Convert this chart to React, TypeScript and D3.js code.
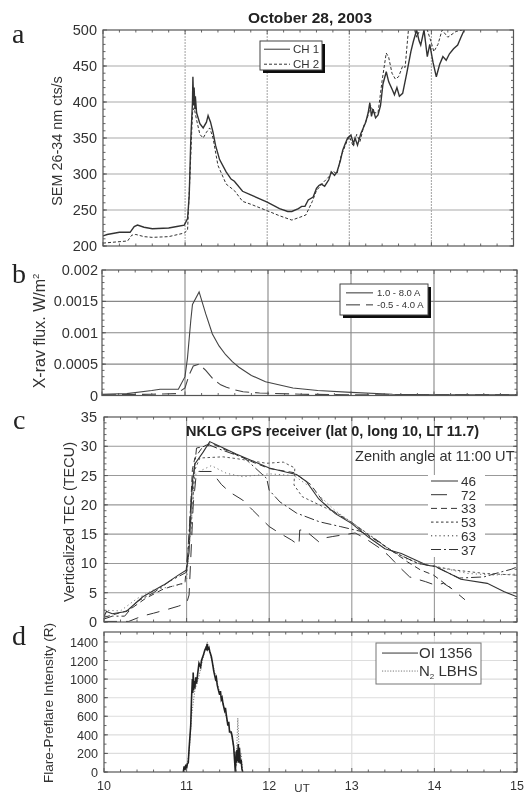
import React from "react";
import * as d3 from "d3";

const FONT = "'Liberation Sans', Arial, sans-serif";
const SERIF = "'Liberation Serif', serif";

// Panel a
const aT1 = [10,10.05,10.1,10.2,10.33,10.38,10.42,10.5,10.6,10.8,10.9,10.99,11.03,11.05,11.07,11.09,11.095,11.105,11.11,11.12,11.125,11.14,11.18,11.22,11.26,11.28,11.31,11.34,11.37,11.42,11.5,11.56,11.6,11.7,11.8,12,12.15,12.25,12.3,12.38,12.42,12.46,12.5,12.56,12.6,12.63,12.66,12.7,12.75,12.78,12.82,12.85,12.89,12.92,12.95,12.98,13.02,13.05,13.07,13.1,13.14,13.17,13.2,13.23,13.25,13.27,13.29,13.32,13.35,13.38,13.41,13.45,13.48,13.52,13.55,13.58,13.61,13.65,13.7,13.75,13.78,13.82,13.85,13.87,13.91,13.95,13.98,14.02,14.06,14.1,14.14,14.18,14.22,14.27,14.32,14.36,14.4];
const aCH1 = [214,216,217,219,219,227,229,226,224,225,227,229,238,270,350,400,435,395,420,390,408,385,370,364,372,381,372,358,340,320,303,293,290,276,271,261,252,248,248,252,255,255,264,268,280,284,286,283,292,303,298,303,318,333,342,350,354,342,350,340,356,364,372,385,399,380,390,378,382,395,425,442,428,418,410,420,408,412,440,470,484,500,485,479,500,463,480,455,435,452,463,458,467,474,479,490,500];
const aT2 = [10,10.1,10.3,10.35,10.4,10.5,10.6,10.8,10.99,11.03,11.06,11.09,11.11,11.14,11.18,11.22,11.26,11.3,11.34,11.4,11.5,11.6,11.7,11.8,12,12.15,12.3,12.4,12.47,12.55,12.6,12.63,12.68,12.75,12.8,12.85,12.9,12.97,13,13.05,13.09,13.13,13.18,13.22,13.26,13.3,13.35,13.4,13.45,13.48,13.52,13.56,13.6,13.65,13.68,13.72,13.78,13.82,13.88,13.95,14,14.03,14.08,14.13,14.2,14.3,14.38];
const aCH2 = [204,205,207,215,216,213,212,213,218,222,300,385,392,375,355,350,358,364,350,312,286,277,262,258,249,242,236,240,243,262,277,281,288,296,304,300,325,345,352,338,355,345,368,378,395,385,385,430,468,462,440,432,435,450,448,500,510,490,505,500,482,470,480,500,490,498,500];

// Panel b
const bT = [10,10.3,10.6,10.7,10.92,11,11.03,11.07,11.09,11.17,11.25,11.33,11.41,11.49,11.57,11.65,11.8,11.97,12.3,12.6,13,13.5,14,15];
const bLong = [0.00002,0.00003,0.00008,0.0001,0.0001,0.0003,0.0006,0.0012,0.00145,0.00165,0.0013,0.00098,0.00079,0.00065,0.00054,0.00045,0.00032,0.00022,0.00012,0.00008,0.00005,0.00002,0.00001,0.00001];
const bT2 = [10,10.6,10.9,11,11.05,11.1,11.17,11.25,11.34,11.43,11.5,11.57,11.7,11.9,12.4,13,14,15];
const bShort = [0.00001,0.00002,0.00003,0.00012,0.00033,0.00047,0.0005,0.0004,0.00026,0.00017,0.00013,0.0001,0.00006,0.00004,0.00002,0.00001,0.00001,0.00001];

// Panel c
const c46T = [10,10.03,10.1,10.27,10.47,10.72,10.9,11,11.03,11.07,11.1,11.2,11.28,11.4,11.6,11.8,12,12.2,12.33,12.45,12.6,12.8,13,13.2,13.4,13.6,13.91,14.01,14.32,14.64,14.84,15];
const c46 = [1,1.8,1.4,1.8,4.3,6.3,8,8.9,12,24,27,29,30.8,30,28.7,27.5,26.3,25.6,25.2,24,21,18.5,16.8,14.5,12.5,11.7,9.7,9.5,7.3,6.6,5.2,4.3];
const c72T = [10,10.2,10.3,10.46,10.6,10.78,10.9,11,11.03,11.08,11.12,11.3,11.42,11.52,11.68,11.8,12,12.1,12.27,12.36,12.37,12.43,12.6,12.65,12.77,13.04,13.16,13.34,13.44,13.59,13.7,13.89,14.01,14.11,14.2,14.37];
const c72 = [0.1,0.1,0.1,1,1.5,2.2,2.7,3.2,4.6,20,25.7,25.7,23.5,22.2,20.8,19.1,16.3,15.4,14,13.1,15.7,15.7,13.7,14.3,14.6,15.2,14.3,12.6,11.4,9.2,7.7,6.9,6.3,6.6,5.8,3.8];
const c33T = [10,10.3,10.5,10.7,10.8,10.98,11.03,11.07,11.1,11.2,11.3,11.5,11.8,12,12.3,12.5,12.7,12.85,13,13.2,13.5,13.67,13.83,13.99,14.15,14.2];
const c33 = [0.8,2,4,5.5,6,6.7,14,26,28,30,30.5,29.2,27.3,26.2,25.5,23.5,19.7,18.2,17,14.8,12,10.3,8.9,8,6.3,5.8];
const c53T = [11.05,11.1,11.16,11.44,11.6,11.97,12.17,12.31,12.3,12.4,12.65,12.82,13,13.2,13.5,13.8,14,14.23,14.6,15];
const c53 = [15,26,28,28.2,27.9,27.1,27.3,26.3,23.4,21.4,19.7,18.6,17,15,12,10,9.5,8.9,8.3,8];
const c63T = [10,10.2,10.4,10.6,10.8,10.95,11,11.05,11.1,11.15,11.3,11.48,11.68,12,12.3,12.5,12.8,13,13.3,13.6,14,14.4,14.7,15];
const c63 = [2,1.9,4,5.5,6,6.5,7,16,25,25.7,26.7,25.4,24.8,25.3,25,23,19,17,14,11,9.5,8.3,8,8.2];
const c37T = [10,10.1,10.25,10.4,10.6,10.8,11,11.05,11.12,11.28,11.4,11.7,11.97,12,12.13,12.33,12.61,12.86,13.1,13.3,13.5,13.8,14,14.3,14.6,14.77,14.93,15];
const c37 = [0.5,1,1,3.5,5,7,8.5,20,29.7,30.2,29.5,28,24.5,22.5,20.5,18.6,17.1,16.3,15.5,14,12,10,9.5,7.5,7.7,8.4,9,9.4];

// Panel d
const dT = [10.96,10.97,10.98,10.99,11,11.01,11.02,11.03,11.05,11.06,11.07,11.075,11.08,11.085,11.09,11.1,11.11,11.12,11.14,11.15,11.17,11.18,11.2,11.22,11.24,11.245,11.25,11.255,11.27,11.28,11.3,11.31,11.33,11.34,11.35,11.36,11.37,11.38,11.4,11.41,11.42,11.43,11.44,11.46,11.47,11.48,11.5,11.51,11.52,11.54,11.55,11.57,11.59,11.6,11.605,11.61,11.62,11.625,11.63,11.64,11.65,11.66,11.67,11.68];
const dOI = [0,60,20,80,40,90,100,250,500,800,1000,850,1070,880,980,900,1020,950,1100,1170,1130,1200,1250,1310,1350,1310,1380,1320,1340,1300,1240,1190,1080,1040,1000,1020,940,900,830,870,780,800,740,660,690,620,500,540,430,430,390,270,0,220,100,240,120,300,100,260,90,130,30,0];
const dT2 = [10.97,11,11.03,11.06,11.1,11.15,11.2,11.25,11.3,11.35,11.4,11.45,11.5,11.55,11.58,11.6,11.62,11.64,11.66,11.68];
const dN2 = [0,60,200,600,880,1030,1230,1400,1220,1040,860,700,520,380,200,60,580,150,200,0];

const xTicksMajor = [10,11,12,13,14,15];
const xTicksMinor = d3.range(10, 15.001, 0.2);
const aTicks = [200,250,300,350,400,450,500];
const bTicks = [0,0.0005,0.001,0.0015,0.002];
const bLabels = ["0","0.0005","0.001","0.0015","0.002"];
const cTicks = [0,5,10,15,20,25,30,35];
const dTicks = [0,200,400,600,800,1000,1200,1400];
const xLabels = ["10","11","12","13","14","15"];

type Series = { t: number[]; v: number[]; dash?: string; width?: number; color?: string };

function Panel(p: {
  id: string; x0: number; x1: number; yTop: number; yBot: number; domain: [number, number];
  ticks: number[]; labels?: string[]; minor: number[]; series: Series[]; grid: string; xLab?: boolean; tickX?: number;
  tickSize?: number; vDash?: string;
}) {
  const x = d3.scaleLinear().domain([10, 15]).range([p.x0, p.x1]);
  const y = d3.scaleLinear().domain(p.domain).range([p.yBot, p.yTop]);
  return (
    <g fontFamily={FONT}>
      <clipPath id={p.id}><rect x={p.x0} y={p.yTop} width={p.x1 - p.x0} height={p.yBot - p.yTop} /></clipPath>
      {p.ticks.filter(t => t > p.domain[0] && t < p.domain[1]).map(t => (
        <line key={t} x1={p.x0} x2={p.x1} y1={y(t)} y2={y(t)} stroke={p.grid} strokeWidth={1.1} />
      ))}
      {xTicksMajor.slice(1, 5).map(t => (
        <line key={t} x1={x(t)} x2={x(t)} y1={p.yTop} y2={p.yBot} stroke={p.grid} strokeWidth={1.1} strokeDasharray={p.vDash} />
      ))}
      <g clipPath={`url(#${p.id})`} fill="none">
        {p.series.map((s, i) => {
          const pts = s.t.map((t, j) => [t, s.v[j]] as [number, number]);
          const path = d3.line<[number, number]>().x(d => x(d[0])).y(d => y(d[1]))(pts) || "";
          return <path key={i} d={path} stroke={s.color || "#333"} strokeWidth={s.width || 1} strokeDasharray={s.dash} />;
        })}
      </g>
      <rect x={p.x0} y={p.yTop} width={p.x1 - p.x0} height={p.yBot - p.yTop} fill="none" stroke="#555" strokeWidth={1.2} />
      {xTicksMinor.map((t, i) => {
        const major = i % 5 === 0;
        const l = major ? 4 : 2.5;
        return (
          <g key={i} stroke="#555" strokeWidth={0.9}>
            <line x1={x(t)} x2={x(t)} y1={p.yBot} y2={p.yBot - l} />
            <line x1={x(t)} x2={x(t)} y1={p.yTop} y2={p.yTop + l} />
          </g>
        );
      })}
      {p.minor.map((t, i) => (
        <g key={i} stroke="#555" strokeWidth={0.9}>
          <line x1={p.x0} x2={p.x0 + 2.5} y1={y(t)} y2={y(t)} />
          <line x1={p.x1} x2={p.x1 - 2.5} y1={y(t)} y2={y(t)} />
        </g>
      ))}
      {p.ticks.map((t, i) => (
        <g key={t} stroke="#555" strokeWidth={0.9}>
          <line x1={p.x0} x2={p.x0 + 4} y1={y(t)} y2={y(t)} />
          <line x1={p.x1} x2={p.x1 - 4} y1={y(t)} y2={y(t)} />
          <text x={p.tickX ?? p.x0 - 5} y={y(t) + 5} textAnchor="end" fontSize={p.tickSize ?? 14.5} fill="#333" stroke="none">
            {p.labels ? p.labels[i] : t}
          </text>
        </g>
      ))}
      {p.xLab && xTicksMajor.map((t, i) => (
        <text key={t} x={x(t)} y={p.yBot + 18} textAnchor="middle" fontSize={12.5} fill="#333">{xLabels[i]}</text>
      ))}
    </g>
  );
}

function Legend(p: { x: number; y: number; w: number; h: number; rows: { label: React.ReactNode; dash?: string; color?: string }[]; size: number; lineLen: number; rowH: number; shadow: boolean; stroke?: string; textX: number; firstY: number; lx?: number }) {
  return (
    <g fontFamily={FONT}>
      {p.shadow && <rect x={p.x + 3} y={p.y + 3} width={p.w} height={p.h} fill="#111" />}
      <rect x={p.x} y={p.y} width={p.w} height={p.h} fill="#fff" stroke={p.stroke || "#444"} strokeWidth={1} />
      {p.rows.map((r, i) => (
        <g key={i}>
          <line x1={p.x + (p.lx ?? 4)} x2={p.x + (p.lx ?? 4) + p.lineLen} y1={p.firstY + i * p.rowH - p.size * 0.33} y2={p.firstY + i * p.rowH - p.size * 0.33} stroke={r.color || "#333"} strokeDasharray={r.dash} />
          <text x={p.textX} y={p.firstY + i * p.rowH} fontSize={p.size} fill="#333">{r.label}</text>
        </g>
      ))}
    </g>
  );
}

const cRows = [
  { l: "46", dash: undefined as string | undefined },
  { l: "72", dash: "16 30" },
  { l: "33", dash: "6 4" },
  { l: "53", dash: "2.5 2.5" },
  { l: "63", dash: "1.2 3" },
  { l: "37", dash: "10 3 2 3" },
];

export default function App() {
  return (
    <svg width={524} height={795} style={{ position: "absolute", left: 0, top: 0, background: "#fff" }}>
      <defs>
        <filter id="soft" x="0" y="0" width="100%" height="100%"><feGaussianBlur stdDeviation="0.4" /></filter>
      </defs>
      <g filter="url(#soft)">
        <text x={310} y={23} textAnchor="middle" fontFamily={FONT} fontWeight="bold" fontSize={15.5} fill="#222">October 28, 2003</text>

        <Panel id="ca" x0={103} x1={513.5} yTop={30} yBot={246} domain={[200, 500]} ticks={aTicks}
          minor={d3.range(200, 500, 10)} grid="#aaa" tickX={97} vDash="2 1"
          series={[{ t: aT1, v: aCH1, width: 1.4 }, { t: aT2, v: aCH2, dash: "3 2", width: 1 }]} />
        <Legend x={260} y={41} w={62} h={29} shadow size={11.5} lineLen={26} rowH={15} textX={293} firstY={53}
          rows={[{ label: "CH 1" }, { label: "CH 2", dash: "3 2" }]} />

        <Panel id="cb" x0={102} x1={517} yTop={270} yBot={395.5} domain={[0, 0.002]} ticks={bTicks} labels={bLabels}
          minor={d3.range(0, 0.002, 0.0001)} grid="#888" tickX={98}
          series={[{ t: bT, v: bLong, width: 1.1, color: "#444" }, { t: bT2, v: bShort, dash: "14 6", width: 1.1, color: "#444" }]} />
        <Legend x={340} y={284} w={88} h={31} shadow size={9.5} lineLen={27} rowH={12} textX={377} firstY={296} lx={6}
          rows={[{ label: "1.0 - 8.0 A" }, { label: " -0.5 - 4.0 A", dash: "14 6" }]} />

        <Panel id="cc" x0={104} x1={517} yTop={417} yBot={622} domain={[0, 35]} ticks={cTicks}
          minor={d3.range(0, 35, 1)} grid="#999" tickX={97}
          series={[
            { t: c46T, v: c46, width: 1.1 },
            { t: c72T, v: c72, dash: "13 9", width: 1 },
            { t: c33T, v: c33, dash: "6 4", width: 1 },
            { t: c53T, v: c53, dash: "2.5 2.5", width: 1, color: "#555" },
            { t: c63T, v: c63, dash: "1.2 3", width: 1, color: "#777" },
            { t: c37T, v: c37, dash: "10 3 2 3", width: 1 },
          ]} />
        <text x={186} y={436} fontFamily={FONT} fontWeight="bold" fontSize={14.5} fill="#222">NKLG GPS receiver (lat 0, long 10, LT 11.7)</text>
        <text x={355} y={461} fontFamily={FONT} fontSize={14.6} fill="#333">Zenith angle at 11:00 UT</text>
        <rect x={428} y={475} width={57} height={82} fill="#fff" />
        {cRows.map((r, i) => (
          <g key={r.l} fontFamily={FONT}>
            <line x1={431} x2={458} y1={481 + i * 13.7} y2={481 + i * 13.7} stroke="#333" strokeDasharray={r.dash} />
            <text x={461} y={486 + i * 13.7} fontSize={13.5} fill="#333">{r.l}</text>
          </g>
        ))}

        <Panel id="cd" x0={104} x1={517} yTop={632} yBot={772} domain={[0, 1507]} ticks={dTicks}
          minor={d3.range(0, 1500, 100)} grid="#ddd" xLab tickX={98} tickSize={12.6}
          series={[{ t: dT2, v: dN2, dash: "1.2 1.5", width: 1, color: "#777" }, { t: dT, v: dOI, width: 1.6, color: "#222" }]} />
        <Legend x={376} y={643} w={105} h={41} shadow={false} size={15} lineLen={36} rowH={18} textX={419} firstY={658} lx={6} stroke="#777"
          rows={[{ label: "OI 1356" }, { label: <>N<tspan fontSize={8} dy={3}>2</tspan><tspan dy={-3}> LBHS</tspan></>, dash: "1.2 1.5", color: "#777" }]} />

        <g fontFamily={SERIF} fontSize={28} fill="#222">
          <text x={12} y={43}>a</text>
          <text x={12} y={283}>b</text>
          <text x={13} y={429}>c</text>
          <text x={12} y={645}>d</text>
        </g>
        <g fontFamily={FONT} fill="#333" textAnchor="middle">
          <text transform="translate(62,141) rotate(-90)" fontSize={14.4}>SEM 26-34 nm cts/s</text>
          <text transform="translate(45,331) rotate(-90)" fontSize={16}>X-rav flux. W/m<tspan fontSize={9.5} dy={-6}>2</tspan></text>
          <text transform="translate(74,522) rotate(-90)" fontSize={14.5}>Verticalized TEC (TECU)</text>
          <text transform="translate(53,703) rotate(-90)" fontSize={13.6}>Flare-Preflare Intensity (R)</text>
          <text x={302} y={792} fontSize={11.5}>UT</text>
        </g>
      </g>
    </svg>
  );
}
